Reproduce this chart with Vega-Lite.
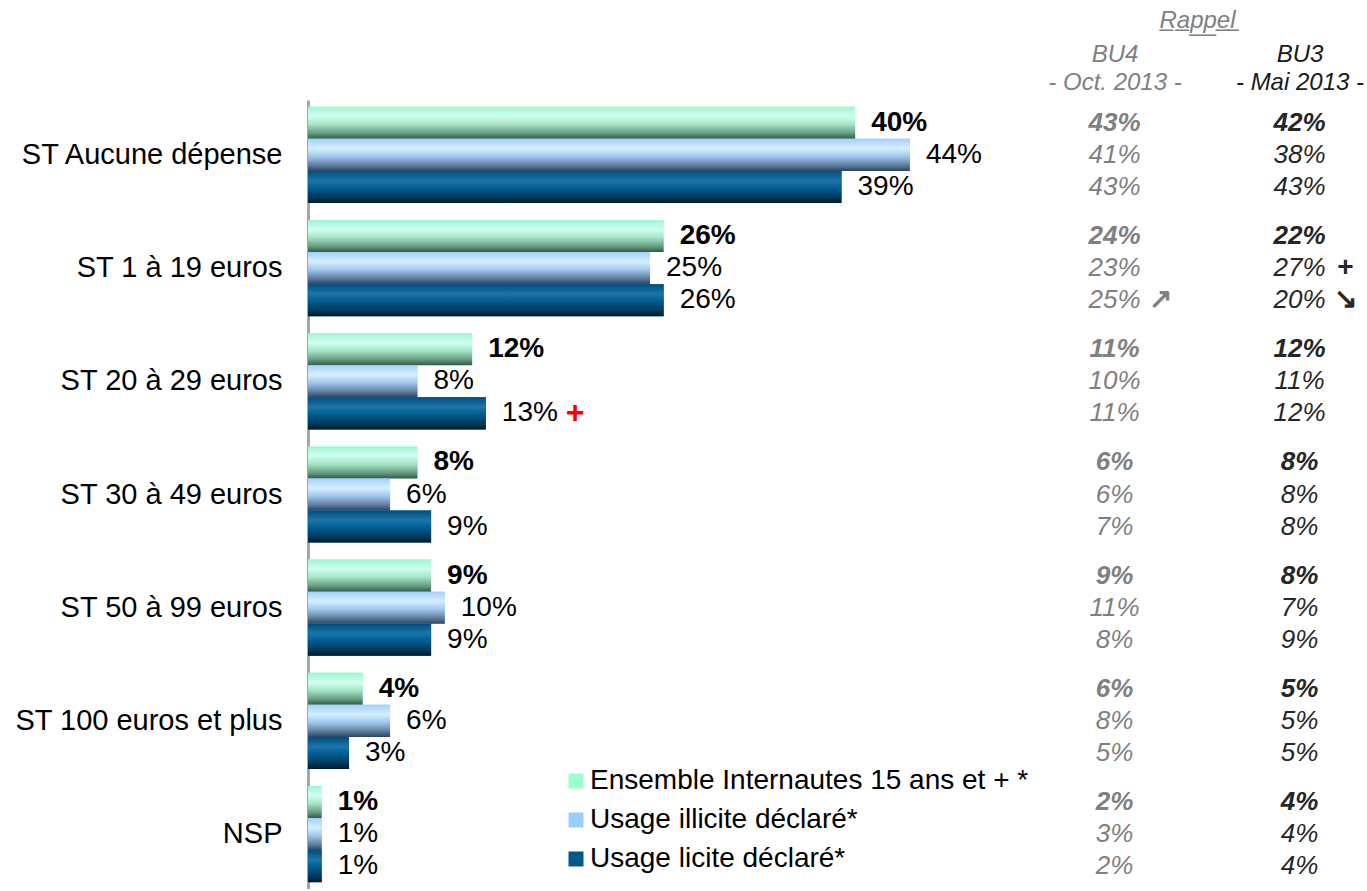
{
  "$schema": "https://vega.github.io/schema/vega-lite/v6.json",
  "padding": {"left": 14, "top": 8, "right": 5, "bottom": 0},
  "autosize": {"type": "pad"},
  "background": "white",
  "bounds": "flush",
  "spacing": 0,
  "config": {"view": {"stroke": null}, "font": "Liberation Sans"},
  "datasets": {
    "d": [
      {"cat": "ST Aucune dépense", "s": "Ensemble Internautes 15 ans et + *", "v": 40, "bu4": 43, "bu3": 42},
      {"cat": "ST Aucune dépense", "s": "Usage illicite déclaré*", "v": 44, "bu4": 41, "bu3": 38},
      {"cat": "ST Aucune dépense", "s": "Usage licite déclaré*", "v": 39, "bu4": 43, "bu3": 43},
      {"cat": "ST 1 à 19 euros", "s": "Ensemble Internautes 15 ans et + *", "v": 26, "bu4": 24, "bu3": 22},
      {"cat": "ST 1 à 19 euros", "s": "Usage illicite déclaré*", "v": 25, "bu4": 23, "bu3": 27, "s3": "+"},
      {"cat": "ST 1 à 19 euros", "s": "Usage licite déclaré*", "v": 26, "bu4": 25, "bu3": 20, "s4": "↗", "s3": "↘"},
      {"cat": "ST 20 à 29 euros", "s": "Ensemble Internautes 15 ans et + *", "v": 12, "bu4": 11, "bu3": 12},
      {"cat": "ST 20 à 29 euros", "s": "Usage illicite déclaré*", "v": 8, "bu4": 10, "bu3": 11},
      {"cat": "ST 20 à 29 euros", "s": "Usage licite déclaré*", "v": 13, "bu4": 11, "bu3": 12, "m": "+"},
      {"cat": "ST 30 à 49 euros", "s": "Ensemble Internautes 15 ans et + *", "v": 8, "bu4": 6, "bu3": 8},
      {"cat": "ST 30 à 49 euros", "s": "Usage illicite déclaré*", "v": 6, "bu4": 6, "bu3": 8},
      {"cat": "ST 30 à 49 euros", "s": "Usage licite déclaré*", "v": 9, "bu4": 7, "bu3": 8},
      {"cat": "ST 50 à 99 euros", "s": "Ensemble Internautes 15 ans et + *", "v": 9, "bu4": 9, "bu3": 8},
      {"cat": "ST 50 à 99 euros", "s": "Usage illicite déclaré*", "v": 10, "bu4": 11, "bu3": 7},
      {"cat": "ST 50 à 99 euros", "s": "Usage licite déclaré*", "v": 9, "bu4": 8, "bu3": 9},
      {"cat": "ST 100 euros et plus", "s": "Ensemble Internautes 15 ans et + *", "v": 4, "bu4": 6, "bu3": 5},
      {"cat": "ST 100 euros et plus", "s": "Usage illicite déclaré*", "v": 6, "bu4": 8, "bu3": 5},
      {"cat": "ST 100 euros et plus", "s": "Usage licite déclaré*", "v": 3, "bu4": 5, "bu3": 5},
      {"cat": "NSP", "s": "Ensemble Internautes 15 ans et + *", "v": 1, "bu4": 2, "bu3": 4},
      {"cat": "NSP", "s": "Usage illicite déclaré*", "v": 1, "bu4": 3, "bu3": 4},
      {"cat": "NSP", "s": "Usage licite déclaré*", "v": 1, "bu4": 2, "bu3": 4}
    ]
  },
  "hconcat": [
    {
      "width": 751,
      "height": 789,
      "data": {"name": "d"},
      "transform": [{"calculate": "datum.v + '%'", "as": "label"}],
      "encoding": {
        "y": {
          "field": "cat", "type": "nominal",
          "sort": ["ST Aucune dépense", "ST 1 à 19 euros", "ST 20 à 29 euros", "ST 30 à 49 euros", "ST 50 à 99 euros", "ST 100 euros et plus", "NSP"],
          "scale": {"paddingInner": 0.15, "paddingOuter": 0.06},
          "axis": {"title": null, "ticks": false, "labelFontSize": 29, "labelColor": "#000000", "labelPadding": 26, "domainColor": "#a6a6a6", "domainWidth": 3, "labelLimit": 400}
        },
        "yOffset": {
          "field": "s", "type": "nominal",
          "scale": {"domain": ["Ensemble Internautes 15 ans et + *", "Usage illicite déclaré*", "Usage licite déclaré*"], "paddingInner": 0, "paddingOuter": 0}
        },
        "x": {"field": "v", "type": "quantitative", "scale": {"domain": [0, 54.9], "nice": false}, "axis": null}
      },
      "layer": [
        {
          "mark": {"type": "bar"},
          "encoding": {
            "color": {
              "field": "s", "type": "nominal",
              "scale": {"domain": ["Ensemble Internautes 15 ans et + *", "Usage illicite déclaré*", "Usage licite déclaré*"], "range": ["#99ffcc", "#99ccff", "#00588a"]},
              "legend": {"title": null, "orient": "none", "legendX": 254, "legendY": 667, "symbolType": "square", "symbolSize": 225, "symbolStrokeWidth": 0, "labelFontSize": 28, "labelColor": "#000000", "labelOffset": 0, "rowPadding": 11, "labelLimit": 600}
            }
          }
        },
        {
          "transform": [{"filter": "datum.s == 'Ensemble Internautes 15 ans et + *'"}],
          "mark": {"type": "bar", "color": {"gradient": "linear", "x1": 0, "y1": 0, "x2": 0, "y2": 1, "stops": [
            {"offset": 0, "color": "#9ff5d0"}, {"offset": 0.3, "color": "#d0fff2"}, {"offset": 0.55, "color": "#a3e5c4"}, {"offset": 0.82, "color": "#6a9c82"}, {"offset": 1, "color": "#2f5c46"}]}}
        },
        {
          "transform": [{"filter": "datum.s == 'Usage illicite déclaré*'"}],
          "mark": {"type": "bar", "color": {"gradient": "linear", "x1": 0, "y1": 0, "x2": 0, "y2": 1, "stops": [
            {"offset": 0, "color": "#a3d0ff"}, {"offset": 0.3, "color": "#d6efff"}, {"offset": 0.55, "color": "#a0c6ec"}, {"offset": 0.82, "color": "#5f7fa0"}, {"offset": 1, "color": "#2c4460"}]}}
        },
        {
          "transform": [{"filter": "datum.s == 'Usage licite déclaré*'"}],
          "mark": {"type": "bar", "color": {"gradient": "linear", "x1": 0, "y1": 0, "x2": 0, "y2": 1, "stops": [
            {"offset": 0, "color": "#004e7c"}, {"offset": 0.3, "color": "#1b74ab"}, {"offset": 0.55, "color": "#005a8c"}, {"offset": 0.82, "color": "#003a5c"}, {"offset": 1, "color": "#001a2c"}]}}
        },
        {
          "transform": [{"filter": "datum.s == 'Ensemble Internautes 15 ans et + *'"}],
          "mark": {"type": "text", "align": "left", "baseline": "middle", "dx": 16, "fontSize": 28, "fontWeight": "bold", "color": "#000000"},
          "encoding": {"text": {"field": "label"}}
        },
        {
          "transform": [{"filter": "datum.s != 'Ensemble Internautes 15 ans et + *'"}],
          "mark": {"type": "text", "align": "left", "baseline": "middle", "dx": 16, "fontSize": 28, "color": "#000000"},
          "encoding": {"text": {"field": "label"}}
        },
        {
          "transform": [{"filter": "datum.m"}],
          "mark": {"type": "text", "align": "left", "baseline": "middle", "dx": 80, "fontSize": 32, "fontWeight": "bold", "color": "#ff0000"},
          "encoding": {"text": {"field": "m"}}
        }
      ]
    },
    {
      "width": 296,
      "height": 789,
      "data": {"name": "d"},
      "transform": [
        {"fold": ["bu4", "bu3"], "as": ["col", "val"]},
        {"calculate": "datum.val + '%'", "as": "label"},
        {"calculate": "datum.col == 'bu4' ? (datum.s4 || '') : (datum.s3 || '')", "as": "sym"}
      ],
      "encoding": {
        "y": {
          "field": "cat", "type": "nominal",
          "sort": ["ST Aucune dépense", "ST 1 à 19 euros", "ST 20 à 29 euros", "ST 30 à 49 euros", "ST 50 à 99 euros", "ST 100 euros et plus", "NSP"],
          "scale": {"paddingInner": 0.15, "paddingOuter": 0.06},
          "axis": null
        },
        "yOffset": {
          "field": "s", "type": "nominal",
          "scale": {"domain": ["Ensemble Internautes 15 ans et + *", "Usage illicite déclaré*", "Usage licite déclaré*"], "paddingInner": 0, "paddingOuter": 0}
        },
        "x": {
          "field": "col", "type": "nominal", "sort": ["bu4", "bu3"],
          "scale": {"type": "point", "padding": 0.3},
          "axis": {
            "orient": "top", "title": "R̲a̲p̲p̲e̲l̲", "titleFontSize": 24, "titleFontStyle": "italic", "titleFontWeight": "normal", "titleColor": "#808080", "titlePadding": 10, "titleX": 138, "titleAlign": "center",
            "ticks": false, "domain": false, "labelAngle": 0, "labelFontSize": 24, "labelFontStyle": "italic", "labelLineHeight": 28, "labelPadding": 34,
            "labelColor": {"condition": {"test": "datum.value == 'bu4'", "value": "#808080"}, "value": "#1a1a1a"},
            "labelExpr": "datum.value == 'bu4' ? ['BU4', '- Oct. 2013 -'] : ['BU3', '- Mai 2013 -']"
          }
        },
        "color": {"condition": {"test": "datum.col == 'bu4'", "value": "#808080"}, "value": "#262626"}
      },
      "layer": [
        {
          "transform": [{"filter": "datum.s == 'Ensemble Internautes 15 ans et + *'"}],
          "mark": {"type": "text", "align": "center", "baseline": "middle", "fontSize": 26, "fontStyle": "italic", "fontWeight": "bold"},
          "encoding": {"text": {"field": "label"}}
        },
        {
          "transform": [{"filter": "datum.s != 'Ensemble Internautes 15 ans et + *'"}],
          "mark": {"type": "text", "align": "center", "baseline": "middle", "fontSize": 26, "fontStyle": "italic"},
          "encoding": {"text": {"field": "label"}}
        },
        {
          "transform": [{"filter": "datum.sym != ''"}],
          "mark": {"type": "text", "align": "center", "baseline": "middle", "dx": 46, "fontSize": 28, "fontWeight": "bold"},
          "encoding": {"text": {"field": "sym"}}
        }
      ]
    }
  ]
}
